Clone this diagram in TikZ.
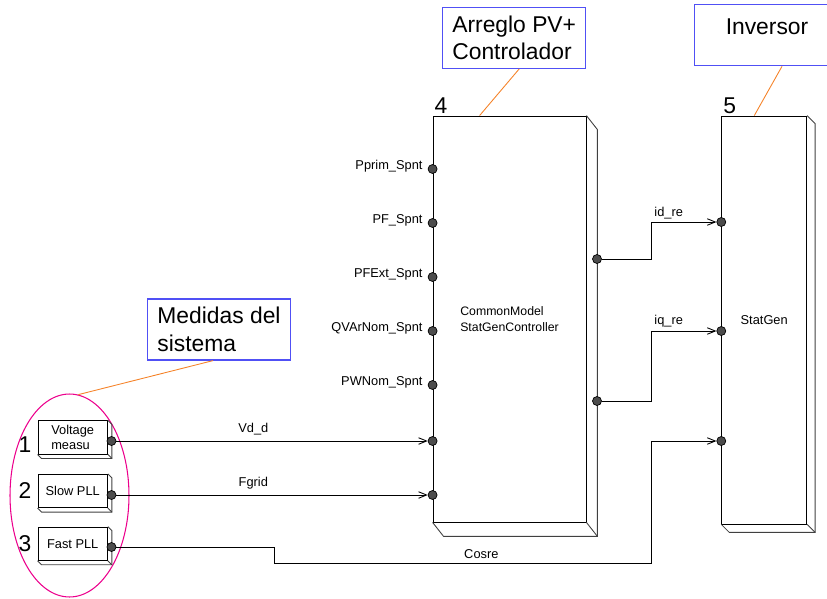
\documentclass[tikz,border=0pt]{standalone}
\usepackage{fontspec}
\setmainfont{Liberation Sans}
\usetikzlibrary{positioning,calc,shapes.geometric,arrows.meta}

\definecolor{callblue}{RGB}{80,80,245}
\definecolor{leadorange}{RGB}{245,130,40}

\newcommand\smalltxt{\fontsize{7.3}{8.8}\selectfont}
\newcommand\tinytxt{\fontsize{7}{9.4}\selectfont}
\newcommand\bigtxt{\fontsize{13}{15.7}\selectfont}
% 3D edge of a block: node, dx, dy
\newcommand\boxdepth[3]{%
	\draw[depthline] (#1.north east) -- ++(#2,#3) |- ($(#1.south west)+(#2,#3)$) -- (#1.south west);
	\draw[depthline] (#1.south east) -- ++(#2,#3);}

\tikzset{
	blk/.style={draw, line width=0.5pt, fill=white, inner sep=0pt},
	depthline/.style={black!75, line width=0.5pt},
	port/.style={circle, draw=black, fill=black!70, line width=0.4pt, inner sep=0pt, minimum size=1.8mm},
	sig/.style={line width=0.5pt, -{Straight Barb[length=1.6mm,width=1.3mm]}},
	lbl/.style={font=\smalltxt, inner sep=1pt},
	callout/.style={draw=callblue, line width=0.7pt, font=\bigtxt, align=left, inner sep=0pt},
	leader/.style={leadorange, line width=0.5pt}
}

\begin{document}
\begin{tikzpicture}[x=0.02cm, y=-0.02cm]
		\clip (0,0) rectangle (827,598);
		
		% main blocks
		\node[blk, minimum width=3.06cm, minimum height=8.12cm, font=\tinytxt, align=left,
			label={[font=\bigtxt, anchor=south west, inner sep=1pt]north west:4}] (ctrl) at (509.5,319) {CommonModel\\StatGenController};
		\boxdepth{ctrl}{11}{14}
		\node[blk, minimum width=1.7cm, minimum height=8.16cm, font=\smalltxt,
			label={[font=\bigtxt, anchor=south west, inner sep=1pt]north west:5}] (stat) at (764.2,320) {StatGen};
		\boxdepth{stat}{8}{8}
		
		% measurement group
		\node[ellipse, draw=magenta, line width=0.6pt, minimum width=2.38cm, minimum height=4.06cm, inner sep=0pt] (grp) at (69.5,495.5) {};
		\node[blk, minimum width=1.39cm, minimum height=0.666cm, font=\smalltxt, align=left,
			label={[font=\bigtxt, yshift=-4pt]left:1}] (volt) at (72.7,437.4) {Voltage\\measu};
		\boxdepth{volt}{4}{4}
		\node[blk, minimum width=1.39cm, minimum height=0.666cm, font=\smalltxt,
			label={[font=\bigtxt]left:2}] (slow) at (72.7,491) {Slow PLL};
		\boxdepth{slow}{4}{4}
		\node[blk, minimum width=1.39cm, minimum height=0.666cm, font=\smalltxt,
			label={[font=\bigtxt]left:3}] (fast) at (72.7,543.7) {Fast PLL};
		\boxdepth{fast}{4}{4}
		
		% callouts
		\node[callout, minimum width=2.85cm, minimum height=1.22cm] (med) at (219,329.5) {Medidas del\\sistema};
		\node[callout, minimum width=2.86cm, minimum height=1.22cm] (arr) at (514.2,37.8) {Arreglo PV+\\Controlador};
		\node[callout, minimum width=2.91cm, minimum height=1.22cm, text depth=0.34cm] (inv) at (767,35.2) {Inversor};
		\draw[leader] ($(med.south)+(-6,0)$) -- (grp.85);
		\draw[leader] ($(arr.south)+(5,0)$) -- ($(ctrl.north west)+(47,0)$);
		\draw[leader] ($(inv.south)+(15,0)$) -- ($(stat.north west)+(33,0)$);
		
		% ports
		\foreach \i/\y in {1/169,2/223,3/277,4/331,5/385,6/441,7/495}
			\node[port] (c-in\i) at (ctrl.west |- 0,\y) {};
		\foreach \i/\t in {1/Pprim,2/PF,3/PFExt,4/QVArNom,5/PWNom}
			\node[lbl, anchor=east] (lab\i) at ($(c-in\i)+(-8,-3)$) {\t\_Spnt};
		\node[port] (c-out1) at (597,259) {};
		\node[port] (c-out2) at (597,401) {};
		\foreach \i/\y in {1/222,2/331,3/441}
			\node[port] (s-in\i) at (stat.west |- 0,\y) {};
		\node[port] (v-out) at (111.5,441) {};
		\node[port] (sl-out) at (111.5,495) {};
		\node[port] (f-out) at (111.5,547) {};
		
		\coordinate (bend) at (651,0);
		\coordinate (dip) at (274,563);
		
		% signals
		\draw[sig] (v-out) -- node[lbl, above=2pt, pos=0.44] {Vd\_d} (c-in6);
		\draw[sig] (sl-out) -- node[lbl, above=2pt, pos=0.44] {Fgrid} (c-in7);
		\draw[sig] (c-out1) -| (bend |- s-in1) -- node[lbl, pos=0, above right=1pt] {id\_re} (s-in1);
		\draw[sig] (c-out2) -| (bend |- s-in2) -- node[lbl, pos=0, above right=1pt] {iq\_re} (s-in2);
		\draw[sig] (f-out) -| (dip) -| node[lbl, above=1pt, pos=0.275] {Cosre} (bend |- s-in3) -- (s-in3);
	\end{tikzpicture}
\end{document}
